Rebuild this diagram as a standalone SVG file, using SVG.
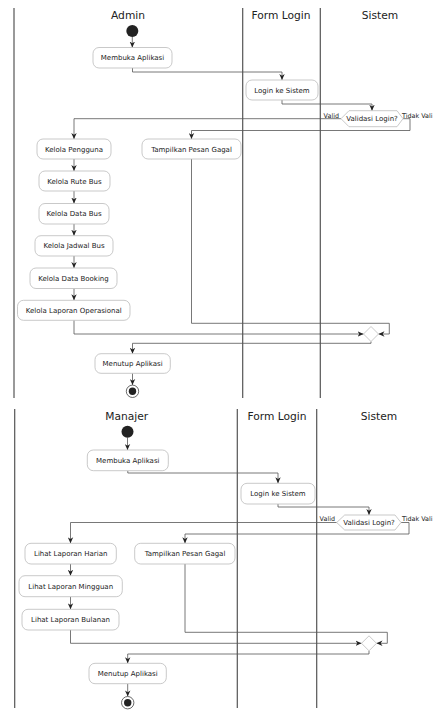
<svg xmlns="http://www.w3.org/2000/svg" width="435" height="711" viewBox="0 0 435 711">
<defs>
<marker id="arr" viewBox="0 0 10 10" refX="10" refY="5" markerWidth="6" markerHeight="6" orient="auto" markerUnits="userSpaceOnUse">
<path d="M0,0.5 L10,5 L0,9.5 L3,5 z" fill="#222"/>
</marker>
<style>
.lane{stroke:#555;stroke-width:1.2;fill:none}
.hdr{font-family:"DejaVu Sans",sans-serif;font-size:10.7px;fill:#222;text-anchor:middle}
.box{fill:#fff;stroke:#bbb;stroke-width:0.8}
.t{font-family:"DejaVu Sans",sans-serif;font-size:7px;fill:#222;text-anchor:middle}
.lbl{font-family:"DejaVu Sans",sans-serif;font-size:6.4px;fill:#222}
.c{fill:none;stroke:#555;stroke-width:0.8}
.ca{fill:none;stroke:#555;stroke-width:0.8;marker-end:url(#arr)}
.start{fill:#222}
.endo{fill:#fff;stroke:#444;stroke-width:0.8}
.endi{fill:#222}
</style>
</defs>
<rect width="435" height="711" fill="#fff"/>

<g id="lanes-top">
<line class="lane" x1="14" y1="8" x2="14" y2="398"/>
<line class="lane" x1="242.7" y1="8" x2="242.7" y2="398"/>
<line class="lane" x1="320.3" y1="8" x2="320.3" y2="398"/>
<text class="hdr" x="128" y="19">Admin</text>
<text class="hdr" x="281" y="19">Form Login</text>
<text class="hdr" x="380" y="19">Sistem</text>
</g>

<g id="lanes-bottom">
<line class="lane" x1="14.7" y1="409" x2="14.7" y2="708"/>
<line class="lane" x1="237.3" y1="409" x2="237.3" y2="708"/>
<line class="lane" x1="316.7" y1="409" x2="316.7" y2="708"/>
<text class="hdr" x="126.7" y="420">Manajer</text>
<text class="hdr" x="277" y="420">Form Login</text>
<text class="hdr" x="379" y="420">Sistem</text>
</g>

<g id="connectors">
<!-- top -->
<path class="ca" d="M132.3,37 V47.5"/>
<path class="ca" d="M132.5,68 V72 H282 V80"/>
<path class="ca" d="M282,100 V104 H372 V110.7"/>
<path class="ca" d="M341,118.7 H74 V139"/>
<path class="ca" d="M403,118.7 H410 V130.5 H191.5 V139"/>
<path class="ca" d="M74,159 V171"/>
<path class="ca" d="M74,191 V203.5"/>
<path class="ca" d="M74,224 V235.7"/>
<path class="ca" d="M74,256 V268"/>
<path class="ca" d="M74,288.5 V300.3"/>
<path class="ca" d="M74,320.3 V334 H363.5"/>
<path class="ca" d="M191.5,159 V323.3 H389.3 V334 H378.5"/>
<path class="ca" d="M371,341.5 V343.3 H132.5 V353.7"/>
<path class="ca" d="M132.5,373.3 V385"/>
<!-- bottom -->
<path class="ca" d="M127.5,437.7 V450"/>
<path class="ca" d="M127.8,470.7 V473 H278 V483.3"/>
<path class="ca" d="M278,504 V507 H369 V515"/>
<path class="ca" d="M336.7,522.5 H70.5 V543.3"/>
<path class="ca" d="M401,522.5 H409 V534 H185 V543.3"/>
<path class="ca" d="M70.5,564 V575.7"/>
<path class="ca" d="M70.5,596.7 V609.3"/>
<path class="ca" d="M70.5,630 V643.3 H361.5"/>
<path class="ca" d="M185,564 V632.3 H387.3 V643.3 H376.5"/>
<path class="ca" d="M369,650.8 V654 H127.7 V663.3"/>
<path class="ca" d="M127.7,683.7 V696.4"/>
</g>

<!-- top diagram nodes -->
<g id="start1"><circle class="start" cx="132.3" cy="31" r="6"/></g>
<g id="membuka1"><rect class="box" x="93" y="47.5" width="79" height="20.5" rx="6"/><text class="t" x="132.5" y="60.3">Membuka Aplikasi</text></g>
<g id="login1"><rect class="box" x="246" y="80" width="72" height="20" rx="6"/><text class="t" x="282" y="92.5">Login ke Sistem</text></g>
<g id="validasi1"><polygon class="box" points="341,118.7 349,110.7 397,110.7 403,118.7 397,126.7 349,126.7"/><text class="t" x="372" y="121.2">Validasi Login?</text>
<text class="lbl" x="339" y="117.5" text-anchor="end">Valid</text>
<text class="lbl" x="402" y="117.5">Tidak Vali</text></g>
<g id="pengguna"><rect class="box" x="37" y="139" width="74" height="20" rx="6"/><text class="t" x="74" y="151.5">Kelola Pengguna</text></g>
<g id="gagal1"><rect class="box" x="142" y="139" width="99" height="20" rx="6"/><text class="t" x="191.5" y="151.5">Tampilkan Pesan Gagal</text></g>
<g id="rute"><rect class="box" x="39" y="171" width="71" height="20" rx="6"/><text class="t" x="74.5" y="183.5">Kelola Rute Bus</text></g>
<g id="databus"><rect class="box" x="39" y="203.5" width="70" height="20.5" rx="6"/><text class="t" x="74" y="216.2">Kelola Data Bus</text></g>
<g id="jadwal"><rect class="box" x="35" y="235.7" width="78" height="20.3" rx="6"/><text class="t" x="74" y="248.3">Kelola Jadwal Bus</text></g>
<g id="booking"><rect class="box" x="30" y="268" width="87" height="20.5" rx="6"/><text class="t" x="73.5" y="280.7">Kelola Data Booking</text></g>
<g id="laporan"><rect class="box" x="17.5" y="300.3" width="112.5" height="20" rx="6"/><text class="t" x="73.75" y="312.8">Kelola Laporan Operasional</text></g>
<g id="merge1"><polygon class="box" points="371,326.5 378.5,334 371,341.5 363.5,334"/></g>
<g id="menutup1"><rect class="box" x="95" y="353.7" width="75.3" height="19.6" rx="6"/><text class="t" x="132.6" y="366">Menutup Aplikasi</text></g>
<g id="end1"><circle class="endo" cx="132.5" cy="391.3" r="6.2"/><circle class="endi" cx="132.5" cy="391.3" r="3.7"/></g>

<!-- bottom diagram nodes -->
<g id="start2"><circle class="start" cx="127.5" cy="431.7" r="6"/></g>
<g id="membuka2"><rect class="box" x="87.3" y="450" width="81" height="20.7" rx="6"/><text class="t" x="127.8" y="462.8">Membuka Aplikasi</text></g>
<g id="login2"><rect class="box" x="241" y="483.3" width="74" height="20.7" rx="6"/><text class="t" x="278" y="496.1">Login ke Sistem</text></g>
<g id="validasi2"><polygon class="box" points="336.7,522.5 344.7,515 395,515 401,522.5 395,530 344.7,530"/><text class="t" x="369" y="525">Validasi Login?</text>
<text class="lbl" x="335" y="521.3" text-anchor="end">Valid</text>
<text class="lbl" x="402" y="521.3">Tidak Vali</text></g>
<g id="harian"><rect class="box" x="25" y="543.3" width="91.3" height="20.7" rx="6"/><text class="t" x="70.7" y="556.1">Lihat Laporan Harian</text></g>
<g id="gagal2"><rect class="box" x="134.7" y="543.3" width="100.3" height="20.7" rx="6"/><text class="t" x="185" y="556.1">Tampilkan Pesan Gagal</text></g>
<g id="mingguan"><rect class="box" x="19" y="575.7" width="103.3" height="21" rx="6"/><text class="t" x="70.7" y="588.7">Lihat Laporan Mingguan</text></g>
<g id="bulanan"><rect class="box" x="22" y="609.3" width="97" height="20.7" rx="6"/><text class="t" x="70.5" y="622.1">Lihat Laporan Bulanan</text></g>
<g id="merge2"><polygon class="box" points="369,635.8 376.5,643.3 369,650.8 361.5,643.3"/></g>
<g id="menutup2"><rect class="box" x="89" y="663.3" width="77.3" height="20.4" rx="6"/><text class="t" x="127.7" y="676">Menutup Aplikasi</text></g>
<g id="end2"><circle class="endo" cx="127.7" cy="702.7" r="6.2"/><circle class="endi" cx="127.7" cy="702.7" r="3.7"/></g>
</svg>
